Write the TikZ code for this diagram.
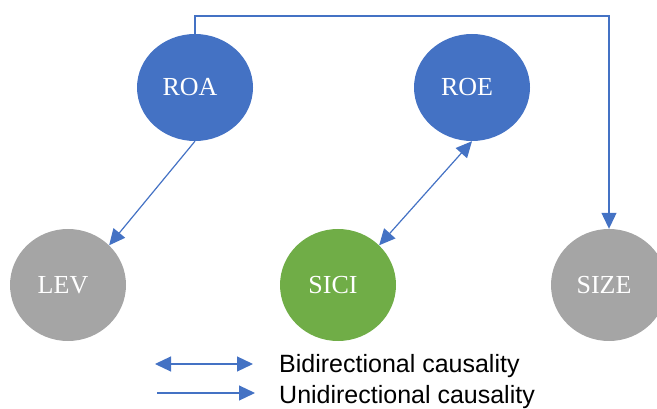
\documentclass[tikz,border=0pt]{standalone}
\usepackage{fontspec}
\setmainfont{Liberation Serif}
\newfontfamily\legendfont{Liberation Sans}
\usetikzlibrary{arrows.meta,shapes.geometric}
\definecolor{nodeblue}{HTML}{4472C4}
\definecolor{nodegreen}{HTML}{70AD47}
\definecolor{nodegray}{HTML}{A5A5A5}
\tikzset{
  var/.style={ellipse, draw=none, minimum width=116pt, inner sep=0pt,
    text=white, font=\fontsize{26}{30}\selectfont, execute at begin node=\kern-10pt},
  toprow/.style={var, fill=nodeblue, minimum height=107pt},
  botrow/.style={var, minimum height=112pt},
  conn/.style={draw=nodeblue, line width=1.2pt, -{Triangle[length=16pt,width=15pt]}},
  biconn/.style={draw=nodeblue, line width=1.2pt, {Triangle[length=16pt,width=15pt]}-{Triangle[length=16pt,width=15pt]}},
  legendtext/.style={anchor=base west, inner sep=0pt, font=\legendfont\fontsize{25}{29}\selectfont}
}
\begin{document}
\begin{tikzpicture}[x=1pt,y=-1pt]
\useasboundingbox (0,0) rectangle (657,409);
\node[toprow] (ROA) at (195,87.5) {ROA};
\node[toprow] (ROE) at (472,87.5) {ROE};
\node[botrow, fill=nodegray] (LEV) at (68,285) {LEV};
\node[botrow, fill=nodegreen] (SICI) at (338,285) {SICI};
\node[botrow, fill=nodegray] (SIZE) at (609,285) {SIZE};
\coordinate (topleft) at (195,16);
\coordinate (topright) at (609,16);
\draw[conn] (ROA.south) -- (LEV.44);
\draw[biconn] (ROE.south) -- (SICI.44);
\draw[conn] (ROA.north) -- (topleft) -- (topright) -- (SIZE.north);
% legend
\coordinate (b1) at (155,364);
\coordinate (b2) at (253,364);
\coordinate (u1) at (157,393);
\coordinate (u2) at (255,393);
\draw[biconn] (b1) -- (b2);
\draw[conn] (u1) -- (u2);
\node[legendtext] (bt) at (279,373) {Bidirectional causality};
\node[legendtext] (ut) at (279,403) {Unidirectional causality};
\end{tikzpicture}
\end{document}
